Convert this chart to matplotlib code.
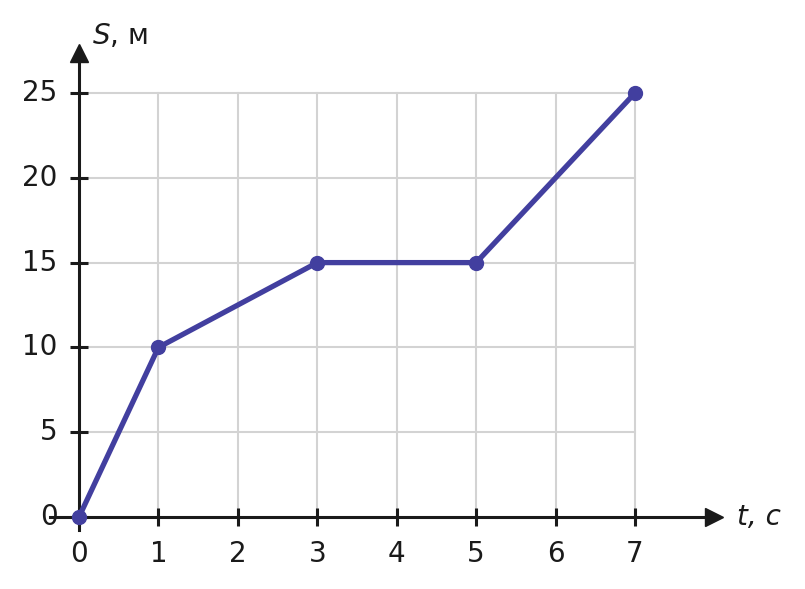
import matplotlib
matplotlib.use("Agg")
import matplotlib.pyplot as plt

plt.rcParams["font.family"] = "DejaVu Sans"
plt.rcParams["mathtext.fontset"] = "dejavusans"

# data
t = [0, 1, 3, 5, 7]
s = [0, 10, 15, 15, 25]
x_ticks = [0, 1, 2, 3, 4, 5, 6, 7]
y_ticks = [0, 5, 10, 15, 20, 25]

line_color = "#423f9f"
axis_color = "#1a1a1a"
grid_color = "#d3d3d3"
fs = 20

fig = plt.figure(figsize=(8.05, 5.89), dpi=100)
ax = fig.add_axes([0, 0, 1, 1])

# pixel mapping: t=0 -> 79px, t=7 -> 635px ; S=0 -> 517px, S=25 -> 93px (from top)
xs = (635 - 79) / 7
ys = (517 - 93) / 25
ax.set_xlim(-79 / xs, (805 - 79) / xs)
ax.set_ylim(-(589 - 517) / ys, 517 / ys)

# grid limited to the data area
for xv in x_ticks[1:]:
    ax.plot([xv, xv], [0, y_ticks[-1]], color=grid_color, lw=1.5, zorder=1)
for yv in y_ticks[1:]:
    ax.plot([0, x_ticks[-1]], [yv, yv], color=grid_color, lw=1.5, zorder=1)

# axes drawn as spines through the origin
for side in ["top", "right"]:
    ax.spines[side].set_visible(False)
ax.spines["left"].set_position(("data", 0))
ax.spines["bottom"].set_position(("data", 0))
for side in ["left", "bottom"]:
    ax.spines[side].set_color(axis_color)
    ax.spines[side].set_linewidth(2.2)
ax.spines["bottom"].set_bounds(-29 / xs, (710 - 79) / xs)
ax.spines["left"].set_bounds(-(530 - 517) / ys, (517 - 60) / ys)

# arrow heads
ax.plot([(714 - 79) / xs], [0], marker=">", ms=13, color=axis_color,
        clip_on=False, zorder=5)
ax.plot([0], [(517 - 53) / ys], marker="^", ms=13, color=axis_color,
        clip_on=False, zorder=5)

ax.set_xticks(x_ticks)
ax.set_yticks(y_ticks)
ax.set_xticklabels([str(v) for v in x_ticks])
ax.set_yticklabels([str(v) for v in y_ticks], va="center")
ax.tick_params(axis="both", direction="inout", length=13, width=2.2,
               color=axis_color, labelcolor=axis_color, labelsize=fs)
ax.tick_params(axis="x", pad=10)
ax.tick_params(axis="y", pad=9)

ax.plot(t, s, color=line_color, lw=3.8, marker="o", ms=10, zorder=6,
        clip_on=False, solid_capstyle="round")

ax.text((92 - 79) / xs, (517 - 36) / ys, r"$S$, м", fontsize=fs,
        color=axis_color, va="center", ha="left")
ax.text((737 - 79) / xs, 0, "t, с", fontsize=fs, color=axis_color,
        style="italic", va="center", ha="left")

fig.savefig("out.png", dpi=100)
